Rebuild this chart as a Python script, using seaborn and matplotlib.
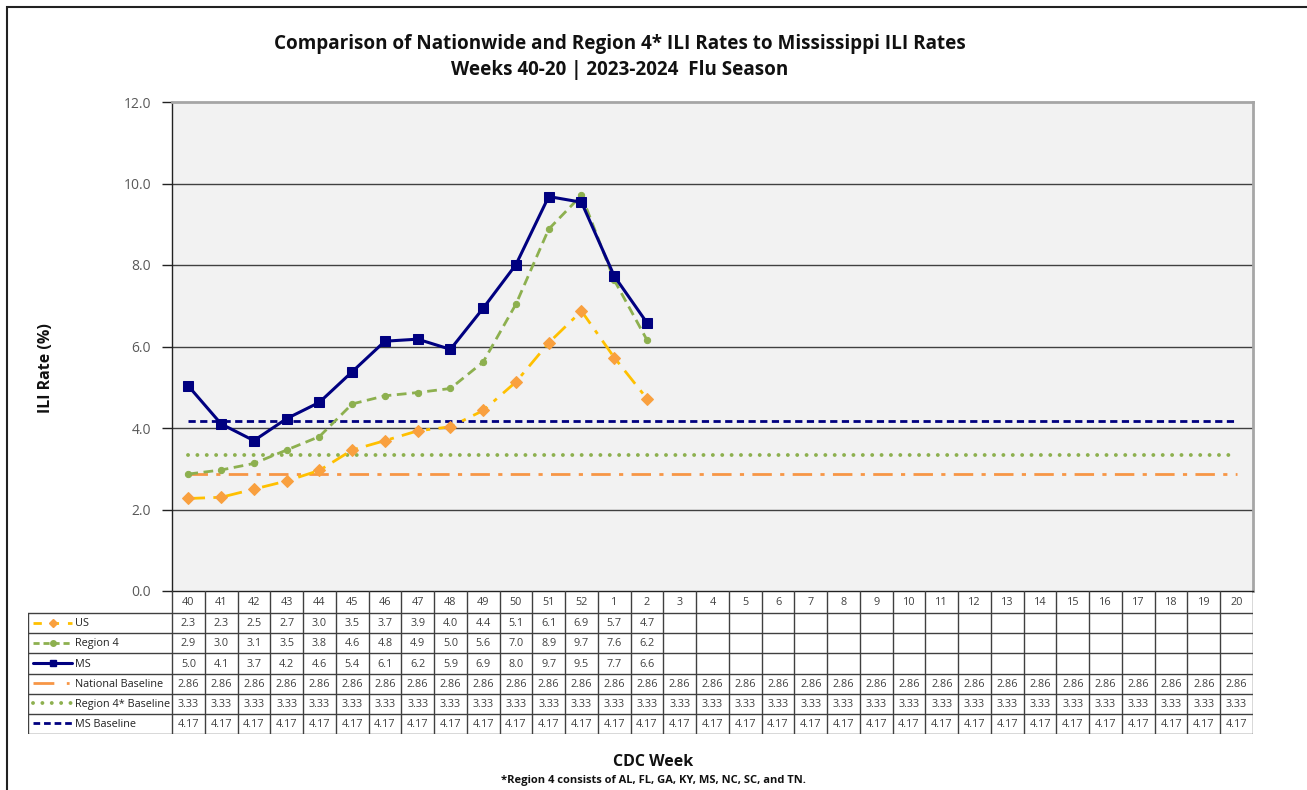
import matplotlib
matplotlib.use("Agg")
import matplotlib.pyplot as plt
import seaborn as sns
import numpy as np
from matplotlib.patches import Rectangle

# CDC weeks of the 2023-2024 season
weeks = [40, 41, 42, 43, 44, 45, 46, 47, 48, 49, 50, 51, 52,
         1, 2, 3, 4, 5, 6, 7, 8, 9, 10, 11, 12, 13, 14, 15, 16, 17, 18, 19, 20]

# weekly ILI rates (%) reported so far
us = [2.27, 2.30, 2.50, 2.70, 2.96, 3.46, 3.69, 3.93, 4.03, 4.43, 5.13, 6.09, 6.87, 5.73, 4.72]
region4 = [2.87, 2.97, 3.13, 3.46, 3.79, 4.59, 4.79, 4.87, 4.97, 5.62, 7.04, 8.88, 9.71, 7.63, 6.16]
ms = [5.03, 4.10, 3.69, 4.23, 4.63, 5.38, 6.13, 6.18, 5.93, 6.94, 8.01, 9.68, 9.54, 7.73, 6.58]

# baselines
national_baseline = 2.86
region4_baseline = 3.33
ms_baseline = 4.17

W, H = 1307, 790
FONT = "Open Sans"

sns.set_theme(style="white")
plt.rcParams["font.family"] = [FONT, "DejaVu Sans"]

fig = plt.figure(figsize=(W / 100, H / 100), dpi=100)
ax = fig.add_axes([172 / W, 1 - 591 / H, (1253 - 172) / W, (591 - 102) / H])
tab = fig.add_axes([28 / W, 1 - 734 / H, (1253 - 28) / W, (734 - 591) / H])

n = len(weeks)
x_all = np.arange(n)
x_obs = np.arange(len(us))

# series styles
styles = {
    "US": dict(color="#FFC000", linestyle=(0, (6, 3, 1.5, 3)), lw=2,
               marker="D", ms=6.5, mfc="#F9A03F", mec="#F9A03F"),
    "Region 4": dict(color="#8DB04F", linestyle=(0, (3.5, 2)), lw=2,
                     marker="o", ms=4.5, mfc="#8DB04F", mec="#8DB04F"),
    "MS": dict(color="#000080", linestyle="-", lw=2.2,
               marker="s", ms=7, mfc="#000080", mec="#000080"),
    "National Baseline": dict(color="#F79646", linestyle=(0, (7, 3, 1.5, 3)), lw=2),
    "Region 4* Baseline": dict(color="#8DB04F", linestyle=(0, (0.01, 2.4)), lw=2.8,
                               dash_capstyle="round"),
    "MS Baseline": dict(color="#000080", linestyle=(0, (2.6, 1.6)), lw=2),
}
# dash patterns used for the small keys in the table
key_dashes = {
    "US": (0, (3, 3.2)),
    "Region 4": (0, (2.2, 1.4)),
    "MS": "-",
    "National Baseline": (0, (7.5, 4.5, 1, 10)),
    "Region 4* Baseline": (0, (0.01, 2.4)),
    "MS Baseline": (0, (2.4, 1.4)),
}

ax.set_facecolor("#F2F2F2")
for y in [2, 4, 6, 8, 10]:
    ax.axhline(y, color="#404040", lw=1, zorder=0)

sns.lineplot(x=x_all, y=[national_baseline] * n, ax=ax, estimator=None, **styles["National Baseline"])
sns.lineplot(x=x_all, y=[region4_baseline] * n, ax=ax, estimator=None, **styles["Region 4* Baseline"])
sns.lineplot(x=x_all, y=[ms_baseline] * n, ax=ax, estimator=None, **styles["MS Baseline"])
sns.lineplot(x=x_obs, y=us, ax=ax, estimator=None, **styles["US"])
sns.lineplot(x=x_obs, y=region4, ax=ax, estimator=None, **styles["Region 4"])
sns.lineplot(x=x_obs, y=ms, ax=ax, estimator=None, **styles["MS"])

ax.set_xlim(-0.5, n - 0.5)
ax.set_ylim(0, 12)
ax.set_yticks(np.arange(0, 12.1, 2))
ax.set_yticklabels([f"{v:.1f}" for v in np.arange(0, 12.1, 2)], color="#595959", fontsize=10)
ax.set_xticks([])
ax.tick_params(axis="y", which="major", left=True, length=7, width=1, color="#222222", pad=8)
for side in ["top", "right"]:
    ax.spines[side].set_color("#A6A6A6")
    ax.spines[side].set_linewidth(2)
for side in ["left", "bottom"]:
    ax.spines[side].set_color("#222222")
    ax.spines[side].set_linewidth(1)

# data table under the chart
L = 144 / ((1253 - 172) / n)
x0 = -0.5 - L
tab.set_xlim(x0, n - 0.5)
tab.set_ylim(142, 0)
tab.axis("off")
line_c = "#404040"
rows = [
    ("US", [f"{v:.1f}" for v in us]),
    ("Region 4", [f"{v:.1f}" for v in region4]),
    ("MS", [f"{v:.1f}" for v in ms]),
    ("National Baseline", [f"{national_baseline:.2f}"] * n),
    ("Region 4* Baseline", [f"{region4_baseline:.2f}"] * n),
    ("MS Baseline", [f"{ms_baseline:.2f}"] * n),
]
for k in range(n + 1):
    tab.plot([k - 0.5, k - 0.5], [0, 142], color=line_c, lw=1)
tab.plot([x0, x0], [22, 142], color=line_c, lw=1)
for r in range(7):
    tab.plot([x0, n - 0.5], [22 + 20 * r] * 2, color=line_c, lw=1)
for i, wk in enumerate(weeks):
    tab.text(i, 11.5, str(wk), ha="center", va="center", fontsize=7.8, color="#404040")
for r, (name, vals) in enumerate(rows):
    yc = 22 + 20 * r + 10.5
    for i, v in enumerate(vals):
        tab.text(i, yc, v, ha="center", va="center", fontsize=7.8, color="#404040")
    st = dict(styles[name])
    st.pop("ms", None)
    mk = st.pop("marker", None)
    st["linestyle"] = key_dashes[name]
    sx = [x0 + 0.15, x0 + 0.75, x0 + 1.35]
    if mk:
        tab.plot(sx, [yc - 1] * 3, markevery=[1], marker=mk, ms=4.5 if mk != "o" else 4, **st)
    else:
        tab.plot(sx, [yc - 1] * 3, **st)
    tab.text(x0 + 1.42, yc, name, ha="left", va="center", fontsize=7.8, color="#222222")

# titles and labels
fig.text(620 / W, 1 - 44 / H, "Comparison of Nationwide and Region 4* ILI Rates to Mississippi ILI Rates",
         ha="center", va="center", fontsize=13.6, weight="bold", color="#111111")
fig.text(620 / W, 1 - 70 / H, "Weeks 40-20 | 2023-2024  Flu Season",
         ha="center", va="center", fontsize=13.6, weight="bold", color="#111111")
fig.text(46 / W, 1 - 368 / H, "ILI Rate (%)", rotation=90, ha="center", va="center",
         fontsize=11.5, weight="bold", color="#111111")
fig.text(653 / W, 1 - 762 / H, "CDC Week", ha="center", va="center",
         fontsize=11.5, weight="bold", color="#111111")
fig.text(653 / W, 1 - 780 / H, "*Region 4 consists of AL, FL, GA, KY, MS, NC, SC, and TN.",
         ha="center", va="center", fontsize=8, weight="bold", color="#111111")

fig.patches.append(Rectangle((7 / W, -0.1), 1.2, 1 - 7 / H + 0.1, transform=fig.transFigure,
                             fill=False, lw=1.5, ec="#222222"))

fig.savefig("out.png", dpi=100, facecolor="white")
